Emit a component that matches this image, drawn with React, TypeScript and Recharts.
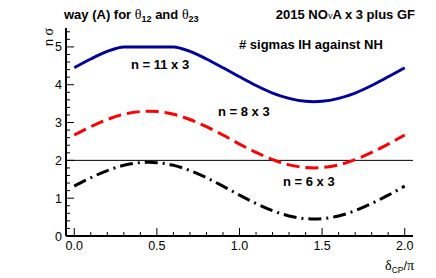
import React from 'react';
import { LineChart, Line, XAxis, YAxis, ReferenceLine } from 'recharts';

const xValues = [0, 0.1, 0.2, 0.3, 0.4, 0.45, 0.5, 0.6, 0.7, 0.8, 0.9, 1.0, 1.1, 1.2, 1.3, 1.4, 1.45, 1.5, 1.6, 1.7, 1.8, 1.9, 2.0];
const n11x3 = [4.45, 4.68, 4.88, 5.0, 5.0, 5.0, 5.0, 5.0, 4.88, 4.68, 4.45, 4.21, 3.98, 3.78, 3.64, 3.56, 3.55, 3.56, 3.64, 3.78, 3.98, 4.21, 4.45];
const n8x3 = [2.67, 2.89, 3.08, 3.22, 3.29, 3.3, 3.29, 3.22, 3.08, 2.89, 2.67, 2.43, 2.21, 2.02, 1.88, 1.81, 1.8, 1.81, 1.88, 2.02, 2.21, 2.43, 2.67];
const n6x3 = [1.32, 1.54, 1.73, 1.87, 1.94, 1.95, 1.94, 1.87, 1.73, 1.54, 1.32, 1.08, 0.86, 0.67, 0.53, 0.46, 0.45, 0.46, 0.53, 0.67, 0.86, 1.08, 1.32];

const xTicks = [0, 0.1, 0.2, 0.3, 0.4, 0.5, 0.6, 0.7, 0.8, 0.9, 1.0, 1.1, 1.2, 1.3, 1.4, 1.5, 1.6, 1.7, 1.8, 1.9, 2.0];
const xMajorLabels = ['0.0', '0.5', '1.0', '1.5', '2.0'];
const yTicks = [0, 0.2, 0.4, 0.6, 0.8, 1, 1.2, 1.4, 1.6, 1.8, 2, 2.2, 2.4, 2.6, 2.8, 3, 3.2, 3.4, 3.6, 3.8, 4, 4.2, 4.4, 4.6, 4.8, 5, 5.2, 5.4];
const yMajorLabels = ['0', '1', '2', '3', '4', '5'];

const data = xValues.map((x, i) => ({ x, a: n11x3[i], b: n8x3[i], c: n6x3[i] }));

const FONT = '"Liberation Sans", Arial, Helvetica, sans-serif';
const GREEK = '"Liberation Serif", "DejaVu Serif", serif';

const isMajorX = (v: number) => Math.abs(v * 2 - Math.round(v * 2)) < 1e-6;
const isMajorY = (v: number) => Math.abs(v - Math.round(v)) < 1e-6;

const XBottomTick = (props: any) => {
  const { x, y, payload } = props;
  const v = payload.value;
  const major = isMajorX(v);
  const idx = Math.round(v * 2);
  return (
    <g>
      <line x1={x} x2={x} y1={y} y2={y - (major ? 8 : 4)} stroke="#000" strokeWidth={1} />
      {major && (
        <text x={x} y={y + 14} textAnchor="middle" fontFamily={FONT} fontSize={12.5} fill="#000">
          {xMajorLabels[idx]}
        </text>
      )}
    </g>
  );
};

const XTopTick = (props: any) => {
  const { x, y, payload } = props;
  const major = isMajorX(payload.value);
  return <line x1={x} x2={x} y1={y} y2={y + (major ? 8 : 4)} stroke="#000" strokeWidth={1} />;
};

const YLeftTick = (props: any) => {
  const { x, y, payload } = props;
  const v = payload.value;
  const major = isMajorY(v);
  return (
    <g>
      <line x1={x} x2={x + (major ? 8 : 4)} y1={y} y2={y} stroke="#000" strokeWidth={1} />
      {major && (
        <text x={x - 4} y={y + 4.5} textAnchor="end" fontFamily={FONT} fontSize={12.5} fill="#000">
          {yMajorLabels[Math.round(v)]}
        </text>
      )}
    </g>
  );
};

const YRightTick = (props: any) => {
  const { x, y, payload } = props;
  const major = isMajorY(payload.value);
  return <line x1={x} x2={x - (major ? 8 : 4)} y1={y} y2={y} stroke="#000" strokeWidth={1} />;
};

export default function App() {
  const axisLine = { stroke: '#000', strokeWidth: 2 };
  return (
    <div style={{ position: 'absolute', left: 0, top: 0, width: 436, height: 278, background: '#fff' }}>
      <LineChart width={436} height={278} data={data} margin={{ top: 28, right: 23, bottom: 0, left: 0 }}>
        <XAxis xAxisId="b" dataKey="x" type="number" domain={[-0.05, 2.05]} ticks={xTicks} interval={0}
          tickSize={0} tickMargin={0} tickLine={false} tick={XBottomTick} axisLine={axisLine} height={42} allowDataOverflow />
        <XAxis xAxisId="t" orientation="top" dataKey="x" type="number" domain={[-0.05, 2.05]} ticks={xTicks} interval={0}
          tickSize={0} tickMargin={0} tickLine={false} tick={XTopTick} axisLine={axisLine} height={0} allowDataOverflow />
        <YAxis yAxisId="l" type="number" domain={[0, 5.5]} ticks={yTicks} interval={0}
          tickSize={0} tickMargin={0} tickLine={false} tick={YLeftTick} axisLine={axisLine} width={66} allowDataOverflow />
        <YAxis yAxisId="r" orientation="right" type="number" domain={[0, 5.5]} ticks={yTicks} interval={0}
          tickSize={0} tickMargin={0} tickLine={false} tick={YRightTick} axisLine={axisLine} width={0} allowDataOverflow />
        <ReferenceLine xAxisId="b" yAxisId="l" y={2} stroke="#000" strokeWidth={1} />
        <Line xAxisId="b" yAxisId="l" type="monotone" dataKey="a" stroke="#00009c" strokeWidth={3} dot={false} isAnimationActive={false} />
        <Line xAxisId="b" yAxisId="l" type="monotone" dataKey="b" stroke="#ff0000" strokeWidth={3} strokeDasharray="13 6" dot={false} isAnimationActive={false} />
        <Line xAxisId="b" yAxisId="l" type="monotone" dataKey="c" stroke="#000" strokeWidth={3} strokeDasharray="13 5 2 5" dot={false} isAnimationActive={false} />
      </LineChart>
      <svg width={436} height={278} style={{ position: 'absolute', left: 0, top: 0, pointerEvents: 'none' }}>
        <text x={64} y={19} fontFamily={FONT} fontSize={13} fontWeight="bold" fill="#000">
          way (A) for <tspan fontFamily={GREEK} fontWeight="normal" fontSize={14}>θ</tspan>
          <tspan fontSize={9} dy={3}>12</tspan>
          <tspan dy={-3}> and </tspan>
          <tspan fontFamily={GREEK} fontWeight="normal" fontSize={14}>θ</tspan>
          <tspan fontSize={9} dy={3}>23</tspan>
        </text>
        <text x={415} y={19} textAnchor="end" fontFamily={FONT} fontSize={13} fontWeight="bold" fill="#000">
          2015 NO<tspan fontFamily={GREEK} fontWeight="normal" fontSize={10}>ν</tspan>A x 3 plus GF
        </text>
        <text x={239} y={49} fontFamily={FONT} fontSize={13} fontWeight="bold" fill="#000"># sigmas IH against NH</text>
        <text x={131} y={69} fontFamily={FONT} fontSize={13} fontWeight="bold" fill="#000">n = 11 x 3</text>
        <text x={218} y={116} fontFamily={FONT} fontSize={13} fontWeight="bold" fill="#000">n = 8 x 3</text>
        <text x={283} y={186} fontFamily={FONT} fontSize={13} fontWeight="bold" fill="#000">n = 6 x 3</text>
        <text x={53} y={28} transform="rotate(-90 53 28)" textAnchor="end" fontFamily={FONT} fontSize={12.5} fill="#000">
          n <tspan fontFamily={GREEK} fontSize={14}>σ</tspan>
        </text>
        <text x={414} y={270} textAnchor="end" fontFamily={FONT} fontSize={12.5} fill="#000">
          <tspan fontFamily={GREEK} fontSize={14}>δ</tspan>
          <tspan fontSize={8.5} dy={3}>CP</tspan>
          <tspan dy={-3}>/</tspan>
          <tspan fontFamily={GREEK} fontSize={14}>π</tspan>
        </text>
      </svg>
    </div>
  );
}
